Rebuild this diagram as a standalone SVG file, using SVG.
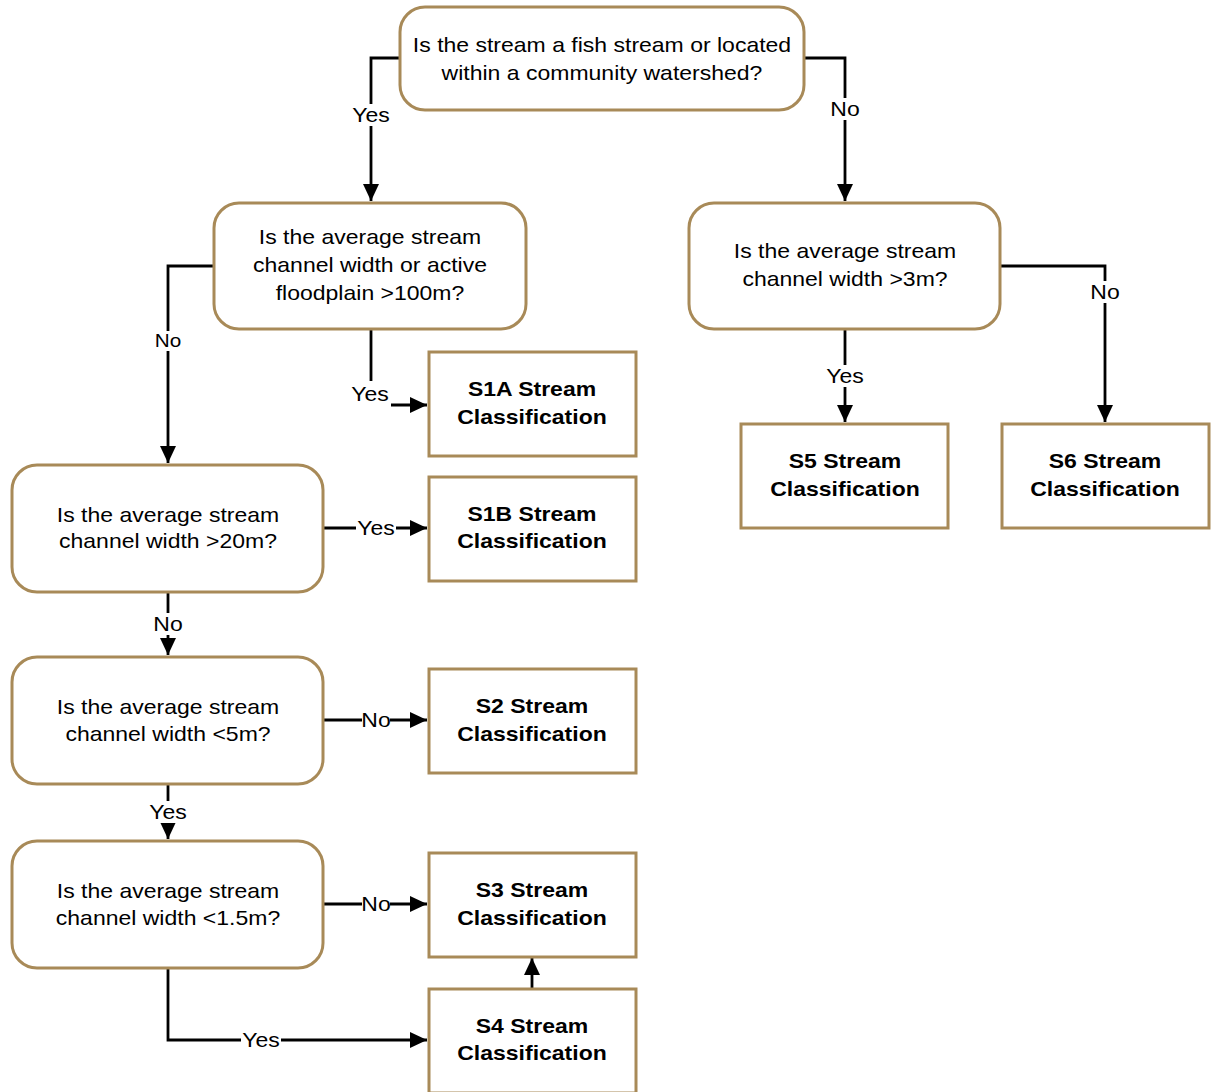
<svg xmlns="http://www.w3.org/2000/svg" width="1212" height="1092" viewBox="0 0 1212 1092">
<style>
.q{fill:#fff;stroke:#A88A58;stroke-width:3}
.t{font-family:"Liberation Sans",Arial,sans-serif;font-size:20px;fill:#000;text-anchor:middle}
.b{font-weight:bold}
.c{fill:none;stroke:#000;stroke-width:2.8}
.lb{fill:#fff;stroke:none}
.sm{font-size:18px}
</style>
<defs>
<marker id="ah" markerUnits="userSpaceOnUse" markerWidth="17" markerHeight="16" viewBox="0 0 17 16" refX="17" refY="8" orient="auto">
<path d="M0,0 L17,8 L0,16 z" fill="#000"/>
</marker>
</defs>
<rect width="1212" height="1092" fill="#fff"/>
<g id="connectors">
<path class="c" d="M400,58 H371 V201" marker-end="url(#ah)"/>
<path class="c" d="M804,58 H845 V201" marker-end="url(#ah)"/>
<path class="c" d="M214,266 H168 V463" marker-end="url(#ah)"/>
<path class="c" d="M371,329 V405 H427" marker-end="url(#ah)"/>
<path class="c" d="M323,528 H427" marker-end="url(#ah)"/>
<path class="c" d="M168,592 V655" marker-end="url(#ah)"/>
<path class="c" d="M323,720 H427" marker-end="url(#ah)"/>
<path class="c" d="M168,784 V839" marker-end="url(#ah)"/>
<path class="c" d="M323,904 H427" marker-end="url(#ah)"/>
<path class="c" d="M168,968 V1040 H427" marker-end="url(#ah)"/>
<path class="c" d="M532,989 V958" marker-end="url(#ah)"/>
<path class="c" d="M845,329 V422" marker-end="url(#ah)"/>
<path class="c" d="M1000,266 H1105 V422" marker-end="url(#ah)"/>
<g id="labels">
<rect class="lb" x="350" y="104" width="42" height="22"/>
<g transform="translate(371,0) scale(1.15,1)"><text class="t" x="0" y="122">Yes</text></g>
<rect class="lb" x="830" y="98" width="30" height="22"/>
<g transform="translate(845,0) scale(1.15,1)"><text class="t" x="0" y="116">No</text></g>
<rect class="lb" x="154" y="331" width="28" height="20"/>
<g transform="translate(168,0) scale(1.15,1)"><text class="t sm" x="0" y="347">No</text></g>
<rect class="lb" x="349" y="381" width="42" height="27"/>
<g transform="translate(370,0) scale(1.15,1)"><text class="t" x="0" y="401">Yes</text></g>
<rect class="lb" x="356" y="517" width="40" height="22"/>
<g transform="translate(376,0) scale(1.15,1)"><text class="t" x="0" y="535">Yes</text></g>
<rect class="lb" x="153" y="613" width="30" height="22"/>
<g transform="translate(168,0) scale(1.15,1)"><text class="t" x="0" y="631">No</text></g>
<rect class="lb" x="362" y="709" width="28" height="22"/>
<g transform="translate(376,0) scale(1.15,1)"><text class="t" x="0" y="727">No</text></g>
<rect class="lb" x="147" y="801" width="42" height="22"/>
<g transform="translate(168,0) scale(1.15,1)"><text class="t" x="0" y="819">Yes</text></g>
<rect class="lb" x="362" y="893" width="28" height="22"/>
<g transform="translate(376,0) scale(1.15,1)"><text class="t" x="0" y="911">No</text></g>
<rect class="lb" x="241" y="1029" width="40" height="22"/>
<g transform="translate(261,0) scale(1.15,1)"><text class="t" x="0" y="1047">Yes</text></g>
<rect class="lb" x="824" y="365" width="42" height="22"/>
<g transform="translate(845,0) scale(1.15,1)"><text class="t" x="0" y="383">Yes</text></g>
<rect class="lb" x="1090" y="281" width="30" height="22"/>
<g transform="translate(1105,0) scale(1.15,1)"><text class="t" x="0" y="299">No</text></g>
</g>
</g>
<g id="n1">
<rect class="q" x="400" y="7" width="404" height="103" rx="25"/>
<g transform="translate(602,0) scale(1.15,1)"><text class="t" x="0" y="52">Is the stream a fish stream or located</text><text class="t" x="0" y="80">within a community watershed?</text></g>
</g>
<g id="n2">
<rect class="q" x="214" y="203" width="312" height="126" rx="25"/>
<g transform="translate(370,0) scale(1.15,1)"><text class="t" x="0" y="244">Is the average stream</text><text class="t" x="0" y="272">channel width or active</text><text class="t" x="0" y="300">floodplain &gt;100m?</text></g>
</g>
<g id="n3">
<rect class="q" x="689" y="203" width="311" height="126" rx="25"/>
<g transform="translate(845,0) scale(1.15,1)"><text class="t" x="0" y="258">Is the average stream</text><text class="t" x="0" y="286">channel width &gt;3m?</text></g>
</g>
<g id="n4">
<rect class="q" x="12" y="465" width="311" height="127" rx="25"/>
<g transform="translate(168,0) scale(1.15,1)"><text class="t" x="0" y="522">Is the average stream</text><text class="t" x="0" y="548">channel width &gt;20m?</text></g>
</g>
<g id="n5">
<rect class="q" x="12" y="657" width="311" height="127" rx="25"/>
<g transform="translate(168,0) scale(1.15,1)"><text class="t" x="0" y="714">Is the average stream</text><text class="t" x="0" y="741">channel width &lt;5m?</text></g>
</g>
<g id="n6">
<rect class="q" x="12" y="841" width="311" height="127" rx="25"/>
<g transform="translate(168,0) scale(1.15,1)"><text class="t" x="0" y="898">Is the average stream</text><text class="t" x="0" y="925">channel width &lt;1.5m?</text></g>
</g>
<g id="s1a">
<rect class="q" x="429" y="352" width="207" height="104"/>
<g transform="translate(532,0) scale(1.15,1)"><text class="t b" x="0" y="396">S1A Stream</text><text class="t b" x="0" y="424">Classification</text></g>
</g>
<g id="s1b">
<rect class="q" x="429" y="477" width="207" height="104"/>
<g transform="translate(532,0) scale(1.15,1)"><text class="t b" x="0" y="521">S1B Stream</text><text class="t b" x="0" y="548">Classification</text></g>
</g>
<g id="s2">
<rect class="q" x="429" y="669" width="207" height="104"/>
<g transform="translate(532,0) scale(1.15,1)"><text class="t b" x="0" y="713">S2 Stream</text><text class="t b" x="0" y="741">Classification</text></g>
</g>
<g id="s3">
<rect class="q" x="429" y="853" width="207" height="104"/>
<g transform="translate(532,0) scale(1.15,1)"><text class="t b" x="0" y="897">S3 Stream</text><text class="t b" x="0" y="925">Classification</text></g>
</g>
<g id="s4">
<rect class="q" x="429" y="989" width="207" height="104"/>
<g transform="translate(532,0) scale(1.15,1)"><text class="t b" x="0" y="1033">S4 Stream</text><text class="t b" x="0" y="1060">Classification</text></g>
</g>
<g id="s5">
<rect class="q" x="741" y="424" width="207" height="104"/>
<g transform="translate(845,0) scale(1.15,1)"><text class="t b" x="0" y="468">S5 Stream</text><text class="t b" x="0" y="496">Classification</text></g>
</g>
<g id="s6">
<rect class="q" x="1002" y="424" width="207" height="104"/>
<g transform="translate(1105,0) scale(1.15,1)"><text class="t b" x="0" y="468">S6 Stream</text><text class="t b" x="0" y="496">Classification</text></g>
</g>
</svg>
